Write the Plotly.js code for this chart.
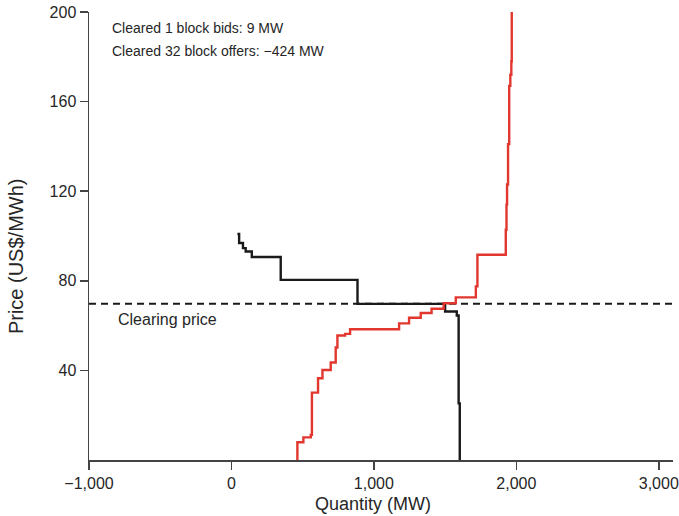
<!DOCTYPE html>
<html>
<head>
<meta charset="utf-8">
<script src="https://cdn.plot.ly/plotly-3.0.1.min.js"></script>
<style>html,body{margin:0;padding:0;background:#fff;}#chart{width:679px;height:516px;}</style>
</head>
<body>
<div id="chart"></div>
<script>
// Block bids (demand, black) – cumulative quantity (MW) and price (US$/MWh), stepped
const bidQty   = [42, 54, 81, 100, 143, 346, 885, 1500, 1582, 1595, 1603];
const bidPrice = [100.9, 96.9, 94.6, 93.1, 90.6, 80.4, 69.7, 66.3, 64.5, 25.3, 0];

// Block offers (supply, red) – cumulative quantity (MW) and price (US$/MWh), stepped
const offerQty   = [463, 463, 505, 557, 565, 608, 639, 697, 732, 744, 798, 833, 1177, 1247, 1329, 1405, 1490, 1575, 1716, 1727, 1926, 1931, 1935, 1942, 1950, 1958, 1965, 1968];
const offerPrice = [0, 7.9, 10.1, 11.2, 30.1, 36.5, 40.2, 43.5, 50.2, 55.6, 56.3, 58.4, 61.0, 63.5, 65.6, 67.5, 70.0, 72.6, 77.5, 91.6, 102.8, 114, 123, 141, 167, 172, 178, 202];

// Clearing price line
const clearingPrice = 69.7;
const clearingQty = [-1000, 3100];

// Axis ticks
const xTicks = [-1000, 0, 1000, 2000, 3000];
const yTicks = [40, 80, 120, 160, 200];

const textColor = '#262626';
const font = 'Liberation Sans, Arial, Helvetica, sans-serif';

const traces = [
  {
    x: clearingQty, y: clearingQty.map(() => clearingPrice),
    mode: 'lines', line: {color: '#1a1a1a', width: 2, dash: '7px,5px'},
    hoverinfo: 'skip', showlegend: false
  },
  {
    x: bidQty, y: bidPrice, mode: 'lines',
    line: {color: '#1a1a1a', width: 2.4, shape: 'hv'},
    name: 'Block bids', showlegend: false
  },
  {
    x: offerQty, y: offerPrice, mode: 'lines',
    line: {color: '#e2372f', width: 2.4, shape: 'hv'},
    name: 'Block offers', showlegend: false
  }
];

const layout = {
  width: 679, height: 516,
  margin: {l: 89, r: 6, t: 12, b: 56},
  paper_bgcolor: '#ffffff', plot_bgcolor: '#ffffff',
  font: {family: font, color: textColor, size: 16},
  showlegend: false,
  xaxis: {
    range: [-1000, 3100], tickvals: xTicks, tickformat: ',d',
    showgrid: false, zeroline: false, showline: true,
    linecolor: '#444444', linewidth: 1.5,
    ticks: 'outside', ticklen: 8, tickwidth: 1.5, tickcolor: '#444444',
    tickfont: {size: 16, color: textColor}, fixedrange: true
  },
  yaxis: {
    range: [0, 200], tickvals: yTicks,
    showgrid: false, zeroline: false, showline: true,
    linecolor: '#444444', linewidth: 1.5,
    ticks: 'outside', ticklen: 8, tickwidth: 1.5, tickcolor: '#444444',
    tickfont: {size: 16, color: textColor}, fixedrange: true
  },
  annotations: [
    {text: 'Cleared 1 block bids: 9 MW', xref: 'paper', yref: 'paper', x: 0.0365, y: 0.9654,
     xanchor: 'left', yanchor: 'middle', showarrow: false, font: {size: 14, color: textColor}},
    {text: 'Cleared 32 block offers: \u2212424 MW', xref: 'paper', yref: 'paper', x: 0.0365, y: 0.914,
     xanchor: 'left', yanchor: 'middle', showarrow: false, font: {size: 14, color: textColor}},
    {text: 'Clearing price', xref: 'paper', yref: 'paper', x: 0.0469, y: 0.3128,
     xanchor: 'left', yanchor: 'middle', showarrow: false, font: {size: 16, color: textColor}},
    {text: 'Quantity (MW)', xref: 'paper', yref: 'paper', x: 0.4866, y: -0.0983,
     xanchor: 'center', yanchor: 'middle', showarrow: false, font: {size: 18, color: textColor}},
    {text: 'Price (US$/MWh)', xref: 'paper', yref: 'paper', x: -0.1253, y: 0.4547, textangle: -90,
     xanchor: 'center', yanchor: 'middle', showarrow: false, font: {size: 20, color: textColor}}
  ]
};

Plotly.newPlot('chart', traces, layout, {displayModeBar: false, staticPlot: true});
</script>
</body>
</html>
